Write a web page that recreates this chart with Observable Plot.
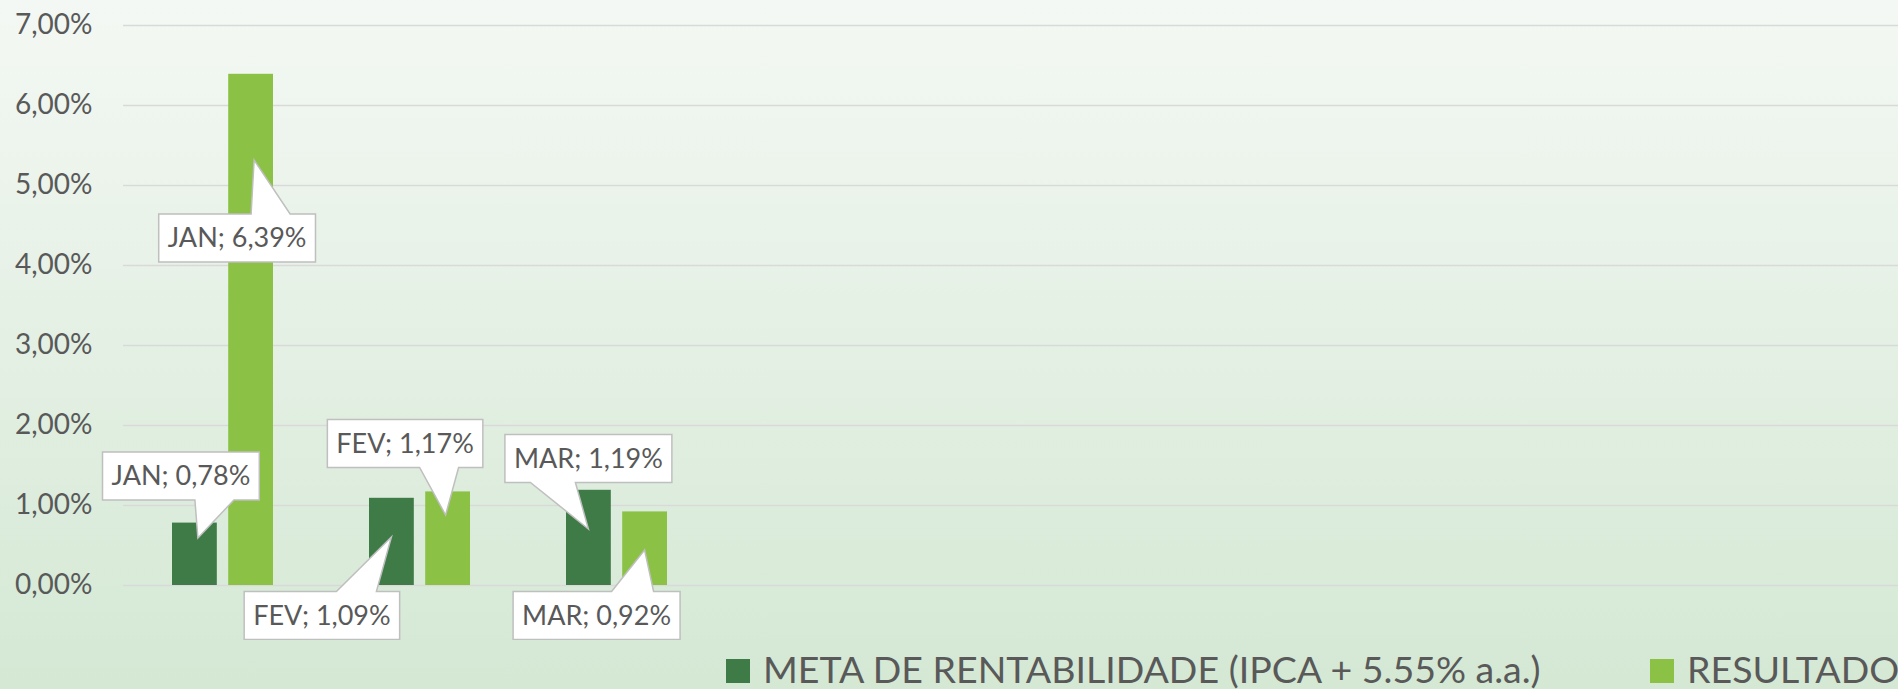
<!DOCTYPE html>
<html>
<head>
<meta charset="utf-8">
<script src="https://cdn.jsdelivr.net/npm/d3@7"></script>
<script src="https://cdn.jsdelivr.net/npm/@observablehq/plot@0.6"></script>
<style>
  html, body { margin: 0; padding: 0; }
  body { width: 1898px; height: 689px; overflow: hidden;
         background: linear-gradient(to bottom, #f4f8f4 0%, #d4e8d4 100%); }
  #wrap { position: relative; width: 1898px; height: 689px; font-family: Lato, sans-serif; }
  #chart svg { display: block; background: transparent; }
  .leg { position: absolute; top: 650px; height: 37px; line-height: 37px; font-size: 37.5px; color: #595959; white-space: nowrap; }
  .sw { position: absolute; top: 659px; width: 24px; height: 24px; }
</style>
</head>
<body>
<div id="wrap">
  <div id="chart"></div>
</div>
<script>
// ---- data ----
const months = ["JAN", "FEV", "MAR", "ABR", "MAI", "JUN", "JUL", "AGO", "SET"];
const dataMonths = ["JAN", "FEV", "MAR"];
const seriesNames = ["META DE RENTABILIDADE (IPCA + 5.55% a.a.)", "RESULTADO"];
const metaValues = [0.0078, 0.0109, 0.0119];
const resultadoValues = [0.0639, 0.0117, 0.0092];
const yTicks = [0, 0.01, 0.02, 0.03, 0.04, 0.05, 0.06, 0.07];

// ---- styles ----
const seriesColors = ["#3e7b46", "#8bc245"];
const textColor = "#595959";
const fmt = v => (v * 100).toFixed(2).replace(".", ",") + "%";

// callout placement (pixel offsets relative to the bar's top centre)
const callouts = [
  {month: "JAN", series: 0, dx: -13.5, dy: -46.6, tipDx: 3.5, tipDy: 15.4, side: "bottom", b0: 14, b1: 53},
  {month: "JAN", series: 1, dx: -13.5, dy: 164.2, tipDx: 3.5, tipDy: 86.2, side: "top", b0: 14, b1: 53},
  {month: "FEV", series: 0, dx: -69.5, dy: 117.7, tipDx: 0, tipDy: 39.2, side: "top", b0: 14.5, b1: 54.5},
  {month: "FEV", series: 1, dx: -42.5, dy: -47.9, tipDx: -2, tipDy: 23.6, side: "bottom", b0: 14.5, b1: 53.5},
  {month: "MAR", series: 0, dx: 0, dy: -31.3, tipDx: 0, tipDy: 39.2, side: "bottom", b0: -58, b1: -13},
  {month: "MAR", series: 1, dx: -48, dy: 104.1, tipDx: 0, tipDy: 38.6, side: "top", b0: 15, b1: 57}
];

const metaRows = dataMonths.map((m, i) => ({month: m, value: metaValues[i]}));
const resRows = dataMonths.map((m, i) => ({month: m, value: resultadoValues[i]}));
const seriesRows = [metaRows, resRows];

const inset = 56.2;
const labelFontSize = 27;
const boxH = 48;
const padX = 9;

const canvas = document.createElement("canvas");
const ctx2d = canvas.getContext("2d");
ctx2d.font = `${labelFontSize}px Lato`;

function calloutMark(index, scales) {
  const g = d3.create("svg:g");
  const x = scales.x, y = scales.y;
  const bw = x.bandwidth ? x.bandwidth() : 101;
  const barW = bw - inset;
  for (const c of callouts) {
    const row = seriesRows[c.series].find(r => r.month === c.month);
    const ax = x(c.month) + (c.series === 0 ? 0 : inset) + barW / 2;
    const ay = y(row.value);
    const label = `${c.month}; ${fmt(row.value)}`;
    const tw = ctx2d.measureText(label).width;
    const w = tw + 2 * padX;
    const cx = ax + c.dx, cy = ay + c.dy;
    const L = cx - w / 2, R = cx + w / 2, T = cy - boxH / 2, B = cy + boxH / 2;
    const tx = ax + c.tipDx, ty = ay + c.tipDy;
    let d;
    if (c.side === "bottom") {
      d = `M${L},${T}L${R},${T}L${R},${B}L${cx + c.b1},${B}L${tx},${ty}L${cx + c.b0},${B}L${L},${B}Z`;
    } else {
      d = `M${L},${T}L${cx + c.b0},${T}L${tx},${ty}L${cx + c.b1},${T}L${R},${T}L${R},${B}L${L},${B}Z`;
    }
    g.append("path").attr("d", d).attr("fill", "white").attr("stroke", "#bfbfbf").attr("stroke-width", 1.5);
    g.append("text")
      .attr("x", cx).attr("y", cy).attr("dy", "0.35em")
      .attr("text-anchor", "middle")
      .attr("fill", textColor)
      .attr("font-family", "Lato")
      .attr("font-size", labelFontSize)
      .text(label);
  }
  return g.node();
}

const chart = Plot.plot({
  width: 1898,
  height: 640,
  marginTop: 25,
  marginBottom: 55,
  marginLeft: 123,
  marginRight: 0,
  style: {background: "transparent", fontFamily: "Lato", fontSize: "28px", color: textColor},
  x: {domain: months, paddingInner: 0.487, paddingOuter: 0.2435, axis: null},
  y: {domain: [0, 0.07], ticks: yTicks, tickFormat: fmt, tickSize: 0, tickPadding: 31, label: null},
  marks: [
    Plot.ruleY(yTicks, {stroke: "#d9d9d9", strokeWidth: 1.5}),
    Plot.barY(metaRows, {x: "month", y: "value", fill: seriesColors[0], insetRight: inset}),
    Plot.barY(resRows, {x: "month", y: "value", fill: seriesColors[1], insetLeft: inset}),
    calloutMark
  ]
});
document.getElementById("chart").append(chart);

// legend (HTML, below the svg)
const wrap = document.getElementById("wrap");
const legendPos = [{sw: 726, tx: 763}, {sw: 1650, tx: 1687}];
seriesNames.forEach((name, i) => {
  const sw = document.createElement("div");
  sw.className = "sw";
  sw.style.left = legendPos[i].sw + "px";
  sw.style.background = seriesColors[i];
  wrap.append(sw);
  const t = document.createElement("div");
  t.className = "leg";
  t.style.left = legendPos[i].tx + "px";
  t.textContent = name;
  wrap.append(t);
});
</script>
</body>
</html>
